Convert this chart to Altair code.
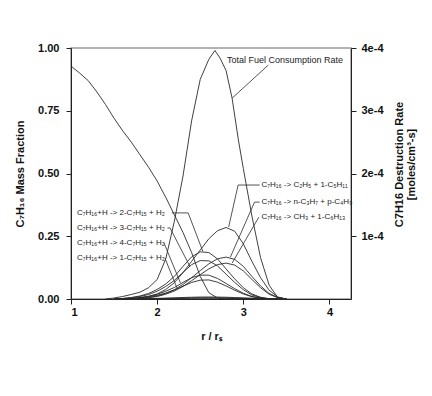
import altair as alt
import pandas as pd

# ---- data ----
# C7H16 mass fraction (left axis)
r_mf = [1.0, 1.1, 1.2, 1.3, 1.4, 1.5, 1.6, 1.7, 1.8, 1.9, 2.0, 2.1, 2.2, 2.3, 2.4, 2.5, 2.6, 2.7, 2.8, 3.5]
mass_fraction = [0.928, 0.90, 0.87, 0.825, 0.775, 0.72, 0.67, 0.625, 0.575, 0.525, 0.47, 0.405, 0.335,
                 0.265, 0.185, 0.09, 0.025, 0.004, 0.0, 0.0]

# total fuel consumption rate (units of 1e-4 moles/cm3-s)
r_total = [1.4, 1.5, 1.6, 1.7, 1.8, 1.9, 2.0, 2.1, 2.2, 2.3, 2.4, 2.5, 2.6, 2.67, 2.73, 2.8, 2.87, 2.94,
           3.0, 3.1, 3.2, 3.3, 3.4, 3.5]
total_rate = [0, 0.016, 0.04, 0.072, 0.108, 0.18, 0.31, 0.64, 1.24, 1.96, 2.84, 3.5, 3.82, 3.96, 3.84,
              3.64, 3.2, 2.56, 2.08, 1.32, 0.66, 0.22, 0.024, 0]

# H-abstraction reactions (units of 1e-4)
r_abs = [1.5, 1.6, 1.7, 1.8, 1.9, 2.0, 2.1, 2.2, 2.3, 2.4, 2.5, 2.6, 2.7, 2.8, 2.9, 3.0, 3.1, 3.2, 3.3, 3.4]
rate_2c7h15 = [0, 0.008, 0.024, 0.048, 0.088, 0.152, 0.24, 0.36, 0.52, 0.672, 0.752, 0.74, 0.64, 0.48,
               0.32, 0.18, 0.08, 0.028, 0.004, 0]
rate_3c7h15 = [0, 0.008, 0.02, 0.04, 0.072, 0.124, 0.2, 0.296, 0.424, 0.548, 0.612, 0.608, 0.528, 0.396,
               0.264, 0.148, 0.064, 0.024, 0.004, 0]
rate_4c7h15 = [0, 0.004, 0.012, 0.024, 0.044, 0.076, 0.124, 0.184, 0.264, 0.34, 0.38, 0.38, 0.328, 0.248,
               0.164, 0.092, 0.04, 0.016, 0, 0]
rate_1c7h15 = [0, 0.004, 0.008, 0.02, 0.036, 0.06, 0.096, 0.144, 0.204, 0.264, 0.3, 0.304, 0.268, 0.208,
               0.14, 0.08, 0.036, 0.012, 0, 0]

# unimolecular decomposition reactions (units of 1e-4)
r_dec = [1.7, 1.8, 1.9, 2.0, 2.1, 2.2, 2.3, 2.4, 2.5, 2.6, 2.7, 2.8, 2.9, 3.0, 3.1, 3.2, 3.3, 3.4, 3.5]
rate_c2h5 = [0, 0.016, 0.04, 0.08, 0.152, 0.26, 0.42, 0.6, 0.78, 0.96, 1.088, 1.14, 1.08, 0.88, 0.6,
             0.34, 0.14, 0.032, 0]
rate_nc3h7 = [0, 0.008, 0.024, 0.048, 0.088, 0.148, 0.232, 0.34, 0.452, 0.56, 0.64, 0.668, 0.632, 0.52,
              0.36, 0.208, 0.088, 0.024, 0]
rate_ch3 = [0, 0.008, 0.02, 0.04, 0.076, 0.128, 0.2, 0.292, 0.388, 0.48, 0.548, 0.572, 0.54, 0.448,
            0.312, 0.18, 0.076, 0.02, 0]

# minor reactions near zero (units of 1e-4)
r_minor = [1.5, 1.6, 1.7, 1.8, 1.9, 2.0, 2.1, 2.2, 2.3, 2.4, 2.5, 2.6, 2.7, 2.8, 2.9, 3.0, 3.1, 3.2, 3.3,
           3.4, 3.5]
minor_a = [0, 0.001, 0.002, 0.004, 0.006, 0.01, 0.014, 0.019, 0.024, 0.028, 0.031, 0.032, 0.031, 0.028,
           0.023, 0.018, 0.012, 0.007, 0.003, 0.001, 0]
minor_b = [0, 0.001, 0.001, 0.002, 0.004, 0.006, 0.009, 0.012, 0.015, 0.018, 0.02, 0.02, 0.019, 0.017,
           0.014, 0.011, 0.007, 0.004, 0.002, 0.001, 0]
minor_c = [0, 0, 0.001, 0.001, 0.002, 0.003, 0.005, 0.007, 0.009, 0.011, 0.012, 0.012, 0.011, 0.01,
           0.008, 0.006, 0.004, 0.002, 0.001, 0, 0]

# annotation labels (positions in r and fraction-of-axis units)
label_text = ["Total Fuel Consumption Rate",
              "C₇H₁₆+H -> 2-C₇H₁₅ + H₂", "C₇H₁₆+H -> 3-C₇H₁₅ + H₂",
              "C₇H₁₆+H -> 4-C₇H₁₅ + H₂", "C₇H₁₆+H -> 1-C₇H₁₅ + H₂",
              "C₇H₁₆ -> C₂H₅ + 1-C₅H₁₁", "C₇H₁₆ -> n-C₃H₇ + p-C₄H₉", "C₇H₁₆ -> CH₃ + 1-C₆H₁₃"]
label_r = [2.81, 1.07, 1.07, 1.07, 1.07, 3.21, 3.21, 3.21]
label_y = [0.952, 0.343, 0.283, 0.223, 0.163, 0.454, 0.386, 0.326]
label_size = [9, 8, 8, 8, 8, 8, 8, 8]

leader_id = [0, 0, 1, 1, 1, 2, 2, 2, 3, 3, 4, 4, 5, 5, 5, 6, 6, 6, 7, 7]
leader_r = [3.29, 2.87, 2.17, 2.36, 2.53, 2.12, 2.15, 2.38, 2.08, 2.27, 2.09, 2.23,
            3.19, 2.94, 2.83, 3.19, 3.13, 2.85, 3.18, 2.87]
leader_y = [0.932, 0.80, 0.343, 0.343, 0.19, 0.283, 0.283, 0.13, 0.223, 0.064, 0.163, 0.044,
            0.454, 0.454, 0.287, 0.386, 0.386, 0.167, 0.326, 0.143]

x_ticks = [1, 2, 3, 4]
left_ticks = [0, 0.25, 0.5, 0.75, 1.0]
right_ticks = [1e-4, 2e-4, 3e-4, 4e-4]

# ---- tables ----
mf_df = pd.DataFrame({"r": r_mf, "y": mass_fraction})

rate_rows = []
def add(name, rs, vals):
    for i, (a, b) in enumerate(zip(rs, vals)):
        rate_rows.append({"series": name, "r": a, "rate": b * 1e-4, "o": i})

add("total", r_total, total_rate)
add("2-C7H15", r_abs, rate_2c7h15)
add("3-C7H15", r_abs, rate_3c7h15)
add("4-C7H15", r_abs, rate_4c7h15)
add("1-C7H15", r_abs, rate_1c7h15)
add("C2H5", r_dec, rate_c2h5)
add("nC3H7", r_dec, rate_nc3h7)
add("CH3", r_dec, rate_ch3)
add("minor a", r_minor, minor_a)
add("minor b", r_minor, minor_b)
add("minor c", r_minor, minor_c)
rate_df = pd.DataFrame(rate_rows)

lab_df = pd.DataFrame({"r": label_r, "y": label_y, "t": label_text, "s": label_size})
lead_df = pd.DataFrame({"id": leader_id, "r": leader_r, "y": leader_y,
                        "o": list(range(len(leader_id)))})

FONT = "Liberation Sans"
LINE = "#2a2a2a"

xscale = alt.Scale(domain=[1, 4.25], nice=False, zero=False)
xaxis = alt.Axis(values=x_ticks, format="d", title="r / rₛ", grid=False, titlePadding=13)
yscale_l = alt.Scale(domain=[0, 1], nice=False)
yaxis_l = alt.Axis(values=left_ticks, format=".2f", title="C₇H₁₆ Mass Fraction", grid=False,
                   orient="left", labelPadding=7, titlePadding=12)

mf_line = alt.Chart(mf_df).mark_line(color=LINE, strokeWidth=0.9).encode(
    x=alt.X("r:Q", scale=xscale, axis=xaxis),
    y=alt.Y("y:Q", scale=yscale_l, axis=yaxis_l),
)

leaders = alt.Chart(lead_df).mark_line(color=LINE, strokeWidth=0.8).encode(
    x=alt.X("r:Q", scale=xscale, axis=xaxis),
    y=alt.Y("y:Q", scale=yscale_l, axis=yaxis_l),
    detail="id:N",
    order="o:Q",
)

labels = alt.Chart(lab_df).mark_text(align="left", baseline="middle", font=FONT,
                                     color="#222222").encode(
    x=alt.X("r:Q", scale=xscale, axis=xaxis),
    y=alt.Y("y:Q", scale=yscale_l, axis=yaxis_l),
    text="t:N",
    size=alt.Size("s:Q", scale=None, legend=None),
)

left = alt.layer(mf_line, leaders, labels)

rates = alt.Chart(rate_df).mark_line(color=LINE, strokeWidth=0.9).encode(
    x=alt.X("r:Q", scale=xscale, axis=xaxis),
    y=alt.Y("rate:Q", scale=alt.Scale(domain=[0, 4e-4], nice=False),
            axis=alt.Axis(orient="right", values=right_ticks, format=".0e", grid=False,
                          title=["C7H16 Destruction Rate", "[moles/cm³-s]"],
                          titleAngle=270, titleLineHeight=12, labelPadding=5,
                          titlePadding=9, titleY=116)),
    detail="series:N",
    order="o:Q",
)

chart = alt.layer(left, rates).resolve_scale(y="independent").properties(
    width=280, height=251,
    autosize=alt.AutoSizeParams(type="none"),
    padding={"left": 63, "top": 40, "right": 73, "bottom": 89},
).configure_view(stroke="#999999", strokeWidth=1.5).configure_axis(
    labelFont=FONT, titleFont=FONT, labelFontSize=11, titleFontSize=11,
    labelFontWeight="bold", titleFontWeight="bold", labelColor="#111", titleColor="#111",
    domainColor="#222", tickColor="#222", tickSize=5, domainWidth=1,
)

chart.save("out.html", embed_options={"renderer": "svg", "actions": False})
